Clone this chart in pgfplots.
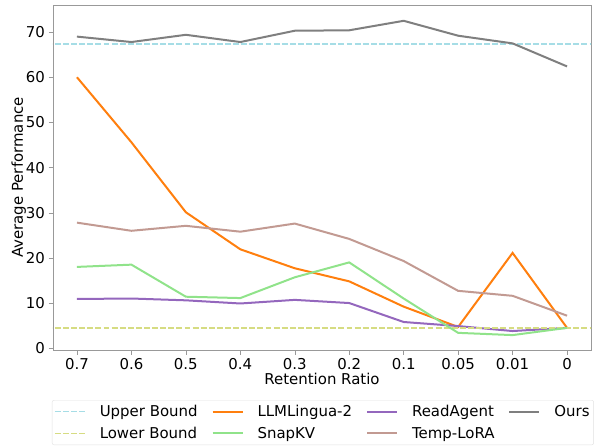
\documentclass[border=0pt]{standalone}
\usepackage{pgfplots}
\pgfplotsset{compat=1.18}
\usepackage{fontspec}
\setmainfont{DejaVu Sans}
\definecolor{cub}{HTML}{A6DDE6}
\definecolor{clb}{HTML}{D6DC82}
\definecolor{cllm}{HTML}{FF7F0E}
\definecolor{csnap}{HTML}{90E38A}
\definecolor{cread}{HTML}{9467BD}
\definecolor{ctemp}{HTML}{C29A92}
\definecolor{cours}{HTML}{7F7F7F}
\definecolor{spine}{HTML}{999999}
\newcommand{\lf}{\fontsize{15}{18}\selectfont}
\begin{document}
\begin{tikzpicture}
\begin{axis}[
  scale only axis,
  width=538bp, height=345bp,
  xmin=-0.44, xmax=9.44,
  ymin=-0.4, ymax=76,
  xtick={0,1,2,3,4,5,6,7,8,9},
  xticklabels={0.7,0.6,0.5,0.4,0.3,0.2,0.1,0.05,0.01,0},
  ytick={0,10,20,30,40,50,60,70},
  tick align=outside,
  tick pos=left,
  major tick length=4.5bp,
  axis line style={spine},
  every tick/.style={spine},
  /pgf/number format/assume math mode=true,
  tick label style={font=\lf},
  label style={font=\lf},
  xlabel={Retention Ratio},
  ylabel={Average Performance},
  xlabel style={yshift=3pt},
  ylabel style={yshift=-7pt},
  legend columns=4,
  legend cell align=left,
  legend style={at={(rel axis cs:-0.0019,-0.145)}, anchor=north west,
    draw=black!12, rounded corners=2pt,
    inner xsep=2bp, inner ysep=3bp,
    row sep=5bp,
    /tikz/every odd column/.append style={column sep=12bp},
    /tikz/every even column/.append style={column sep=12bp}},
  legend image code/.code={\draw[#1] (0bp,0bp) -- (30bp,0bp);},
  every axis plot/.append style={line width=2bp},
]
\addplot[cub, dash pattern=on 5.9bp off 2.2bp, line width=1.6bp] coordinates {(-1,67.3) (10,67.3)};
\addlegendentry{\lf Upper Bound}
\addplot[cllm] coordinates {(0,60.0) (1,45.6) (2,30.1) (3,21.9) (4,17.7) (5,14.8) (6,9.2) (7,4.7) (8,21.1) (9,4.5)};
\addlegendentry{\lf LLMLingua-2}
\addplot[cread] coordinates {(0,10.9) (1,11.0) (2,10.6) (3,9.9) (4,10.7) (5,10.0) (6,5.8) (7,4.9) (8,3.8) (9,4.5)};
\addlegendentry{\lf ReadAgent}
\addplot[cours] coordinates {(0,69.0) (1,67.8) (2,69.4) (3,67.8) (4,70.3) (5,70.4) (6,72.5) (7,69.2) (8,67.5) (9,62.4)};
\addlegendentry{\lf Ours}
\addplot[clb, dash pattern=on 5.9bp off 2.2bp, line width=1.6bp] coordinates {(-1,4.5) (10,4.5)};
\addlegendentry{\lf Lower Bound}
\addplot[csnap] coordinates {(0,18.0) (1,18.5) (2,11.4) (3,11.1) (4,15.7) (5,19.0) (6,11.0) (7,3.4) (8,2.9) (9,4.5)};
\addlegendentry{\lf SnapKV}
\addplot[ctemp] coordinates {(0,27.8) (1,26.0) (2,27.1) (3,25.8) (4,27.6) (5,24.2) (6,19.3) (7,12.7) (8,11.6) (9,7.2)};
\addlegendentry{\lf Temp-LoRA}
\end{axis}
\pgfresetboundingbox
\useasboundingbox (-53bp,-97bp) rectangle (541bp,350bp);
\end{tikzpicture}
\end{document}
